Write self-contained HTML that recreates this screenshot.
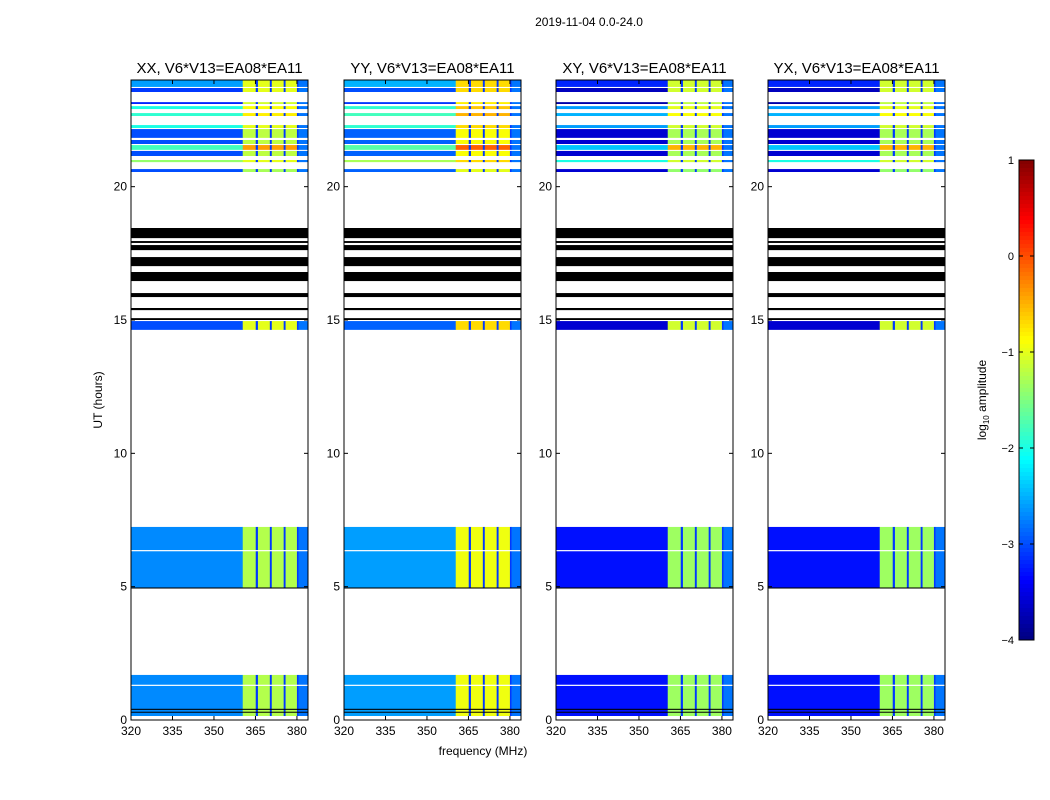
<!DOCTYPE html>
<html><head><meta charset="utf-8"><style>
html,body{margin:0;padding:0;background:#fff;}
svg{display:block;font-family:"Liberation Sans","DejaVu Sans",sans-serif;}
</style></head><body>
<svg id="chart" width="1050" height="800" viewBox="0 0 1050 800" xmlns="http://www.w3.org/2000/svg">
<text x="589" y="26" font-size="12" text-anchor="middle">2019-11-04 0.0-24.0</text>
<text x="483" y="755" font-size="12" text-anchor="middle">frequency (MHz)</text>
<text x="102" y="400" font-size="12" text-anchor="middle" transform="rotate(-90 102 400)">UT (hours)</text>
<g id="panels"></g>
<g id="cbar"></g>
<text x="986" y="400" font-size="12" text-anchor="middle" transform="rotate(-90 986 400)">log<tspan font-size="8" dy="3">10</tspan><tspan dy="-3"> amplitude</tspan></text>
</svg>
<script>
const panelTitles = ["XX, V6*V13=EA08*EA11","YY, V6*V13=EA08*EA11","XY, V6*V13=EA08*EA11","YX, V6*V13=EA08*EA11"];
const xTicks = [320,335,350,365,380];
const yTicks = [0,5,10,15,20];
const cbarTicks = [1,0,-1,-2,-3,-4];
// frequency channel segments: start, end, type
const chanStart = [320,360.4,365.1,365.9,370.2,370.9,375.2,375.9,380.0,380.6];
const chanEnd   = [360.4,365.1,365.9,370.2,370.9,375.2,375.9,380.0,380.6,384];
const chanType  = ["low","high","notch","high","notch","high","notch","high","notch","edge"];
// time blocks (hours)
const blockStart = [23.74,23.55,23.10,22.91,22.65,22.20,21.83,21.60,21.38,21.15,20.92,20.55,14.63,4.95,0.15];
const blockEnd   = [24.00,23.70,23.17,23.02,22.76,22.31,22.16,21.75,21.56,21.34,21.00,20.66,14.96,7.24,1.69];
const blockLow   = [-2.6,-3.1,-3.2,-2.0,-1.9,-2.0,-3.0,-3.0,-1.8,-3.0,-1.4,-3.0,-3.0,-2.7,-2.7];
const blockHigh  = [-1.0,-1.0,-1.1,-0.9,-0.8,-1.0,-1.2,-1.2,-0.4,-1.2,-1.0,-1.3,-1.0,-1.25,-1.25];
// per-panel level offsets (low band, high band)
const panelLowOffset  = [0,0.1,-0.6,-0.6];
const panelHighOffset = [0,0.3,-0.1,-0.1];
// black flagged bands (hours)
const flagStart = [18.07,17.89,17.62,17.02,16.46,15.86,15.37,15.00,4.93,0.38,0.28];
const flagEnd   = [18.45,17.96,17.81,17.36,16.80,16.01,15.45,15.07,4.97,0.42,0.31];
// white gaps within blocks (hours)
const gapHours = [6.35,1.3];

const NS="http://www.w3.org/2000/svg";
const L=[131,344,556,768], TOP=80, W=177, H=640;
function xs(p,f){return L[p]+(f-320)*W/64;}
function ys(h){return TOP+H-(h*H/24);}
function jet(v){let t=Math.max(0,Math.min(1,(v+4)/5));
 const c=x=>Math.round(255*Math.max(0,Math.min(1,x)));
 return `rgb(${c(1.5-Math.abs(4*t-3))},${c(1.5-Math.abs(4*t-2))},${c(1.5-Math.abs(4*t-1))})`;}
function mk(tag,attrs,parent){const e=document.createElementNS(NS,tag);for(const k in attrs)e.setAttribute(k,attrs[k]);parent.appendChild(e);return e;}
const root=document.getElementById('panels');
for(let p=0;p<4;p++){
 const g=mk('g',{},root);
 
 
 for(let b=0;b<blockStart.length;b++){
  for(let c=0;c<chanStart.length;c++){
   let v;
   if(chanType[c]=="low") v=blockLow[b]+panelLowOffset[p];
   else if(chanType[c]=="high") v=blockHigh[b]+panelHighOffset[p];
   else if(chanType[c]=="notch") v=-3.1;
   else v=-2.8;
   const r=mk('rect',{x:xs(p,chanStart[c]),y:ys(blockEnd[b]),width:xs(p,chanEnd[c])-xs(p,chanStart[c])+0.3,height:ys(blockStart[b])-ys(blockEnd[b]),fill:jet(v)},g);
   
   
  }
 }
 for(const gh of gapHours){mk('rect',{x:L[p],y:ys(gh)-0.6,width:W,height:1.2,fill:'#fff'},g);}
 for(let f=0;f<flagStart.length;f++){
  const r=mk('rect',{x:L[p],y:ys(flagEnd[f]),width:W,height:Math.max(1,ys(flagStart[f])-ys(flagEnd[f])),fill:'#000'},g);
  
  
 }
 const fr=mk('rect',{x:L[p],y:TOP,width:W,height:H,fill:'none',stroke:'#000','stroke-width':1},g);
 
 
 const t=mk('text',{x:L[p]+W/2,y:73,'font-size':15,'text-anchor':'middle'},g);
 t.textContent=panelTitles[p];
 
 
 for(const xt of xTicks){const x=xs(p,xt);
  mk('line',{x1:x,x2:x,y1:TOP+H,y2:TOP+H-4,stroke:'#000'},g);
  mk('line',{x1:x,x2:x,y1:TOP,y2:TOP+4,stroke:'#000'},g);
  const tx=mk('text',{x:x,y:TOP+H+15,'font-size':12,'text-anchor':'middle'},g);
  tx.textContent=xt;
  
  }
 for(const yt of yTicks){const y=ys(yt);
  mk('line',{x1:L[p],x2:L[p]+4,y1:y,y2:y,stroke:'#000'},g);
  mk('line',{x1:L[p]+W,x2:L[p]+W-4,y1:y,y2:y,stroke:'#000'},g);
  const ty=mk('text',{x:L[p]-4,y:y+4,'font-size':12,'text-anchor':'end'},g);
  ty.textContent=yt;
  
  }
}
// colorbar
const cb=document.getElementById('cbar');
const CX=1019,CW=15,CT=160,CH=480;
function cy(v){return CT+(1-v)*CH/5;}
for(let i=0;i<120;i++){const v=1-5*i/120;
 mk('rect',{x:CX,y:cy(v),width:CW,height:CH/120+0.5,fill:jet(v-5/240)},cb);}
const cf=mk('rect',{x:CX,y:CT,width:CW,height:CH,fill:'none',stroke:'#000'},cb);


for(const v of cbarTicks){const y=cy(v);
 mk('line',{x1:CX,x2:CX+4,y1:y,y2:y,stroke:'#000'},cb);
 mk('line',{x1:CX+CW,x2:CX+CW-4,y1:y,y2:y,stroke:'#000'},cb);
 const t=mk('text',{x:CX-5,y:y+4,'font-size':11,'text-anchor':'end'},cb);
 t.textContent=v<0?'\u2212'+(-v):v;
 
 }
</script>
</body></html>
